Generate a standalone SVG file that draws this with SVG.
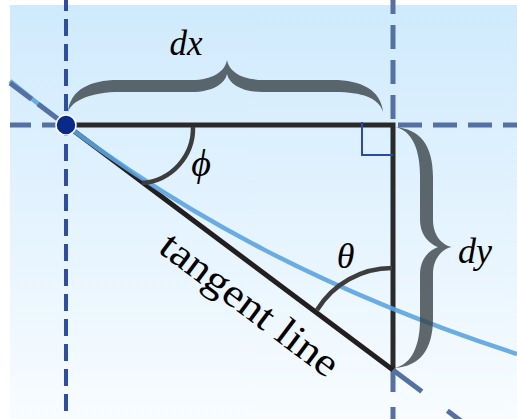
<svg xmlns="http://www.w3.org/2000/svg" width="517" height="419" viewBox="0 0 517 419">
<defs>
<linearGradient id="bg" x1="0" y1="0" x2="0" y2="1">
<stop offset="0" stop-color="#cfeafd"/>
<stop offset="1" stop-color="#f8fcff"/>
</linearGradient>
<style>
.solid{fill:none;stroke:#2a2a2a;stroke-width:5;stroke-linecap:butt}
.hyp{fill:none;stroke:#231f20;stroke-width:5}
.dashL{fill:none;stroke:#2d4ea8;stroke-width:4;stroke-dasharray:17 8}
.dashS{fill:none;stroke:#5571a3;stroke-width:5;stroke-dasharray:24 11}
.curve{fill:none;stroke:#5ba4e0;stroke-width:4.5;stroke-opacity:0.9}
.arc{fill:none;stroke:#3d3d3d;stroke-width:4.5}
.brace{fill:#394247;fill-opacity:0.8}
.math{font-family:"Liberation Serif","Times New Roman",serif;font-style:italic;fill:#000}
.label{font-family:"Liberation Serif","Times New Roman",serif;fill:#000}
</style>
</defs>
<rect x="10" y="5" width="507" height="414" fill="url(#bg)"/>
<g id="connectors">
<line class="dashL" x1="66" y1="0" x2="66" y2="419" stroke-dashoffset="6"/>
<line class="dashS" x1="393" y1="0" x2="393" y2="119" stroke-dashoffset="10"/>
<line class="dashS" x1="393" y1="370" x2="393" y2="419" style="stroke-dasharray:22 15"/>
<line class="dashS" x1="66" y1="125" x2="10" y2="125"/>
<line class="dashS" x1="398" y1="125" x2="517" y2="125"/>
<path class="solid" d="M66,125 H393 V370"/>
<line class="hyp" x1="66" y1="125" x2="393" y2="370"/>
<path class="curve" d="M10,81 C179,221 348,299 517,354"/>
<line class="dashS" x1="10" y1="83" x2="66" y2="125" style="stroke-dasharray:27 8"/>
<line class="dashS" x1="393" y1="370" x2="465" y2="424" style="stroke-dasharray:36 32"/>
<path d="M362,122 V155 H393" fill="none" stroke="#2a4aa8" stroke-width="2"/>
<path class="arc" d="M193,127 A55,55 0 0 1 142,183"/>
<path class="arc" d="M392,268 A88,88 0 0 0 317,310"/>
</g>
<g id="point">
<circle cx="66" cy="125" r="10" fill="#0a2a8a" stroke="#ffffff" stroke-width="1.5"/>
</g>
<g id="brace-dx">
<path class="brace" d="M68,112 C70,90 90,80 118,80 L192,80 C212,80 225,72 227,60 C229,72 242,80 264,80 L333,80 C361,80 381,90 383,112 C379,98 362,92 335,92 L262,92 C242,92 229,84 227,74 C225,84 212,92 192,92 L120,92 C92,92 72,100 68,112 Z"/>
<text class="math" x="186" y="55" font-size="35" text-anchor="middle">dx</text>
</g>
<g id="brace-dy">
<path class="brace" d="M395,127 C420,129 433,145 433,177 L433,220 C433,238 445,246 452,247 C445,248 433,256 433,274 L433,318 C433,350 420,366 395,368 C412,364 420,345 420,320 L420,275 C420,258 430,250 438,247 C430,244 420,236 420,219 L420,175 C420,150 412,130 395,127 Z"/>
<text class="math" x="458" y="263" font-size="36">dy</text>
</g>
<g id="angle-phi">
<text class="math" x="201" y="176" font-size="38" text-anchor="middle">ϕ</text>
</g>
<g id="angle-theta">
<text class="math" x="345.5" y="268" font-size="36" text-anchor="middle">θ</text>
</g>
<g id="tangent-label">
<text class="label" font-size="40" text-anchor="middle" textLength="213" lengthAdjust="spacingAndGlyphs" transform="translate(242,315) rotate(36.9)">tangent line</text>
</g>
</svg>
